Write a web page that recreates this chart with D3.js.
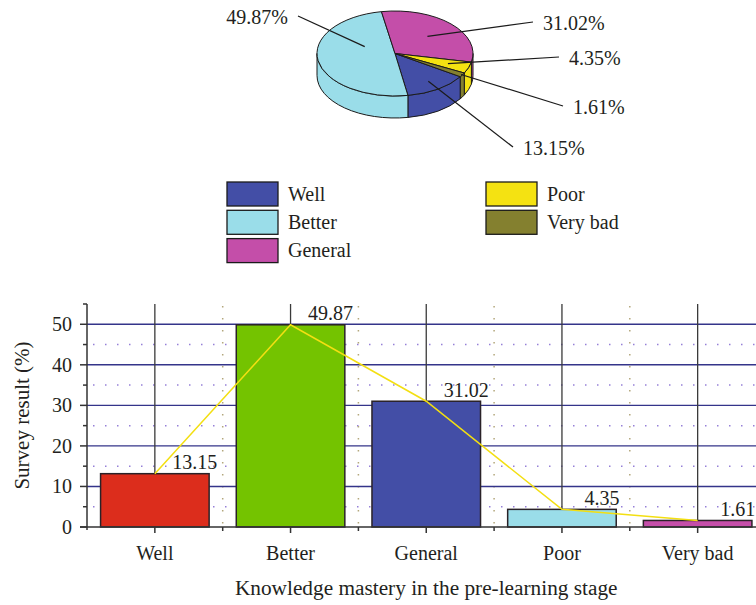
<!DOCTYPE html>
<html><head><meta charset="utf-8">
<script src="https://cdn.jsdelivr.net/npm/d3@7"></script>
<style>
html,body{margin:0;padding:0;background:#fff;}
svg{display:block;font-family:"Liberation Serif","Times New Roman",serif;}
</style></head><body>
<svg id="chart" width="756" height="605"></svg>
<script>
// ---- data ----
const categories = ["Well", "Better", "General", "Poor", "Very bad"];
const shares = [13.15, 49.87, 31.02, 4.35, 1.61];          // pie, %
const pieLabels = ["13.15%", "49.87%", "31.02%", "4.35%", "1.61%"];
const barValues = [13.15, 49.87, 31.02, 4.35, 1.61];        // bars, %
const barLabels = ["13.15", "49.87", "31.02", "4.35", "1.61"];
const yTicks = [0, 10, 20, 30, 40, 50];
const yMinorTicks = [5, 15, 25, 35, 45, 55];

// ---- styling ----
const pieColors = ["#434ea6", "#9adde9", "#c44ea9", "#f4e212", "#84802f"];
const barColors = ["#dc2d1c", "#74c300", "#434ea6", "#9adde9", "#c44ea9"];
const ink = "#231f20";

const svg = d3.select("#chart");

// ================= 3D pie =================
const P = {cx: 395, cy: 53.5, rx: 78, ry: 42.5, depth: 22};
const deg = Math.PI / 180;
const pie = d3.pie().sort(null).value(d => d)
  .startAngle(123.13 * deg).endAngle(123.13 * deg + 2 * Math.PI);
const arcs = pie(shares);

function pt(a, r = 1, dy = 0) {
  return [P.cx + P.rx * r * Math.sin(a), P.cy - P.ry * r * Math.cos(a) + dy];
}
function topPath(a0, a1) {
  const p0 = pt(a0), p1 = pt(a1), large = (a1 - a0) > Math.PI ? 1 : 0;
  return `M${P.cx},${P.cy}L${p0}A${P.rx},${P.ry} 0 ${large} 1 ${p1}Z`;
}
function sidePath(s, e) {
  const large = (e - s) > Math.PI ? 1 : 0;
  return `M${pt(s)}A${P.rx},${P.ry} 0 ${large} 1 ${pt(e)}` +
         `L${pt(e, 1, P.depth)}A${P.rx},${P.ry} 0 ${large} 0 ${pt(s, 1, P.depth)}Z`;
}
// visible (front) part of the wall: angles between 90° and 270°
function frontParts(a0, a1) {
  const parts = [];
  for (const k of [-1, 0, 1, 2]) {
    const lo = Math.PI / 2 + k * 2 * Math.PI, hi = 3 * Math.PI / 2 + k * 2 * Math.PI;
    const s = Math.max(a0, lo), e = Math.min(a1, hi);
    if (e > s + 1e-6) parts.push([s, e]);
  }
  return parts;
}

const pieG = svg.append("g");
arcs.forEach((d, i) => {
  frontParts(d.startAngle, d.endAngle).forEach(([s, e]) => {
    pieG.append("path").attr("d", sidePath(s, e))
      .attr("fill", pieColors[i]).attr("stroke", "#1b1b1b").attr("stroke-width", 1)
      .attr("stroke-linejoin", "round");
  });
});
arcs.forEach((d, i) => {
  pieG.append("path").attr("d", topPath(d.startAngle, d.endAngle))
    .attr("fill", pieColors[i]).attr("stroke", "#1b1b1b").attr("stroke-width", 1)
    .attr("stroke-linejoin", "round");
});

// callout layout: label anchor offset from pie centre, text anchor,
// and where the leader meets the slice (fraction along slice, radius fraction)
const callouts = [
  {dx: 128, dy: 94.5, anchor: "start", t: 0.5, r: 0.78},
  {dx: -107, dy: -36.5, anchor: "end", t: 0.68, r: 0.42},
  {dx: 148, dy: -30.5, anchor: "start", t: 0.5, r: 0.58},
  {dx: 174, dy: 4.5, anchor: "start", t: 0.5, r: 0.72},
  {dx: 178, dy: 53.5, anchor: "start", t: 0.5, r: 0.98}
];
arcs.forEach((d, i) => {
  const c = callouts[i];
  const a = d.startAngle + c.t * (d.endAngle - d.startAngle);
  const inner = pt(a, c.r);
  const tx = P.cx + c.dx, ty = P.cy + c.dy;
  const ox = c.anchor === "start" ? tx - 10 : tx + 10;
  pieG.append("line")
    .attr("x1", inner[0]).attr("y1", inner[1]).attr("x2", ox).attr("y2", ty - 1)
    .attr("stroke", "#1b1b1b").attr("stroke-width", 1.2);
  pieG.append("text").attr("x", tx).attr("y", ty).attr("dy", "0.35em")
    .attr("text-anchor", c.anchor).attr("font-size", 20).attr("fill", ink)
    .text(pieLabels[i]);
});

// legend
const legG = svg.append("g");
categories.forEach((name, i) => {
  const col = i < 3 ? 0 : 1, row = i < 3 ? i : i - 3;
  const x = col === 0 ? 227 : 486, y = 182 + row * 28.3;
  legG.append("rect").attr("x", x).attr("y", y).attr("width", 51).attr("height", 24)
    .attr("fill", pieColors[i]).attr("stroke", "#1b1b1b").attr("stroke-width", 1.3);
  legG.append("text").attr("x", x + 61).attr("y", y + 11.5).attr("dy", "0.35em")
    .attr("font-size", 20).attr("fill", ink).text(name);
});

// ================= bar chart =================
const B = {left: 87, right: 765.5, top: 304, bottom: 527};
const x = d3.scaleBand().domain(categories).range([B.left, B.right])
  .paddingInner(0.2).paddingOuter(0.1);
const y = d3.scaleLinear().domain([0, 55]).range([B.bottom, B.top]);
const step = x.step();
const cx = c => x(c) + x.bandwidth() / 2;
const boundaries = d3.range(1, categories.length).map(k => B.left + k * step);

const grid = svg.append("g");
// minor horizontal dotted lines
grid.selectAll(".hmin").data(yMinorTicks.filter(v => v < 55)).join("line")
  .attr("x1", B.left + 6).attr("x2", B.right).attr("y1", d => y(d)).attr("y2", d => y(d))
  .attr("stroke", "#9580d8").attr("stroke-width", 1.5).attr("stroke-dasharray", "1.5 10.5");
// vertical dotted lines between categories
grid.selectAll(".vmin").data(boundaries).join("line")
  .attr("x1", d => d).attr("x2", d => d).attr("y1", B.top + 2).attr("y2", B.bottom)
  .attr("stroke", "#b3a77c").attr("stroke-width", 1.5).attr("stroke-dasharray", "1.5 10.5");
// major horizontal lines
grid.selectAll(".hmaj").data(yTicks.filter(v => v > 0)).join("line")
  .attr("x1", B.left).attr("x2", B.right).attr("y1", d => y(d)).attr("y2", d => y(d))
  .attr("stroke", "#34348a").attr("stroke-width", 1.4);
// vertical lines at category centres
grid.selectAll(".vmaj").data(categories).join("line")
  .attr("x1", d => cx(d)).attr("x2", d => cx(d)).attr("y1", B.top).attr("y2", B.bottom)
  .attr("stroke", "#3a3a3a").attr("stroke-width", 1.3);

// bars
svg.append("g").selectAll("rect").data(barValues).join("rect")
  .attr("x", (d, i) => x(categories[i])).attr("width", x.bandwidth())
  .attr("y", d => y(d)).attr("height", d => y(0) - y(d))
  .attr("fill", (d, i) => barColors[i])
  .attr("stroke", "#2a2228").attr("stroke-width", 1.5);

// axes
const axG = svg.append("g").attr("stroke", "#333").attr("stroke-width", 1.5);
axG.append("line").attr("x1", B.left).attr("x2", B.left).attr("y1", B.top).attr("y2", B.bottom + 3);
axG.append("line").attr("x1", B.left - 7).attr("x2", 756).attr("y1", B.bottom).attr("y2", B.bottom);
axG.selectAll(".yt").data(yTicks).join("line")
  .attr("x1", B.left - 7).attr("x2", B.left).attr("y1", d => y(d)).attr("y2", d => y(d));
axG.selectAll(".ytm").data(yMinorTicks).join("line")
  .attr("x1", B.left - 4).attr("x2", B.left).attr("y1", d => y(d)).attr("y2", d => y(d));
axG.selectAll(".xt").data(categories).join("line")
  .attr("x1", d => cx(d)).attr("x2", d => cx(d)).attr("y1", B.bottom).attr("y2", B.bottom + 6);
axG.selectAll(".xtm").data(boundaries).join("line")
  .attr("x1", d => d).attr("x2", d => d).attr("y1", B.bottom).attr("y2", B.bottom + 4);

// tick labels
svg.append("g").selectAll("text").data(yTicks).join("text")
  .attr("x", B.left - 15).attr("y", d => y(d)).attr("dy", "0.35em")
  .attr("text-anchor", "end").attr("font-size", 20).attr("fill", ink).text(d => d);
svg.append("g").selectAll("text").data(categories).join("text")
  .attr("x", d => cx(d)).attr("y", 560).attr("text-anchor", "middle")
  .attr("font-size", 20).attr("fill", ink).text(d => d);

// axis titles
svg.append("text").attr("x", (B.left + B.right) / 2).attr("y", 595)
  .attr("text-anchor", "middle").attr("font-size", 21.3).attr("fill", ink)
  .text("Knowledge mastery in the pre-learning stage");
svg.append("text").attr("transform", `translate(29,${(B.top + B.bottom) / 2}) rotate(-90)`)
  .attr("text-anchor", "middle").attr("font-size", 21).attr("fill", ink)
  .text("Survey result (%)");

// trend line through the bar tops
svg.append("path")
  .datum(barValues)
  .attr("d", d3.line().x((d, i) => cx(categories[i])).y(d => y(d)))
  .attr("fill", "none").attr("stroke", "#f3df12").attr("stroke-width", 1.5);

// value labels
svg.append("g").selectAll("text").data(barValues).join("text")
  .attr("x", (d, i) => cx(categories[i]) + 40).attr("y", d => y(d) - 4.5)
  .attr("text-anchor", "middle").attr("font-size", 20).attr("fill", ink)
  .text((d, i) => barLabels[i]);
</script>
</body></html>
